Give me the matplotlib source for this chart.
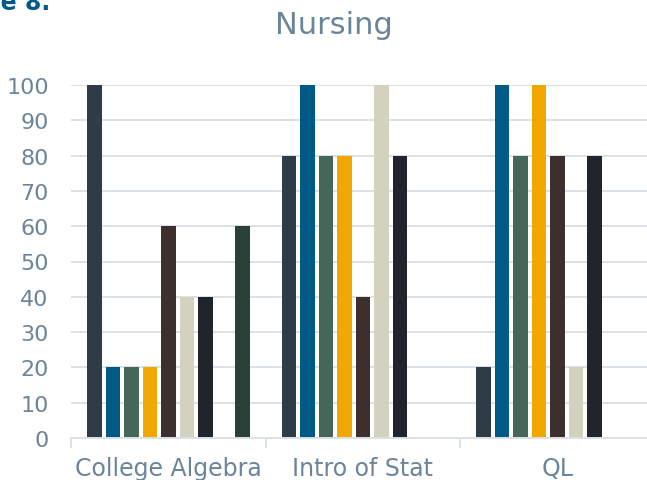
import matplotlib
matplotlib.use("Agg")
import matplotlib.pyplot as plt
import numpy as np

categories = ["College Algebra", "Intro of Stat", "QL"]
series_values = [
    [100, 80, 20],
    [20, 100, 100],
    [20, 80, 80],
    [20, 80, 100],
    [60, 40, 80],
    [40, 100, 20],
    [40, 80, 80],
    [0, 0, 0],
    [60, 0, 0],
]
colors = ["#2F3C48", "#005A86", "#46665A", "#F0A800", "#3D2F2E",
          "#D2D2BF", "#20252D", "#3A5A70", "#2B4037"]
yticks = [0, 10, 20, 30, 40, 50, 60, 70, 80, 90, 100]

text_color = "#6A8599"
grid_color = "#DCE1E8"

fig = plt.figure(figsize=(6.47, 4.81), dpi=100)
W, H = 647, 481
x0, x1 = 71, 655
ytop, ybot = 86, 439
ax = fig.add_axes([x0 / W, 1 - ybot / H, (x1 - x0) / W, (ybot - ytop) / H])

n = len(series_values)
step = 18.5 / 194.5
bw = 14.5 / 194.5
xs = np.arange(len(categories)) + 0.5
for i, vals in enumerate(series_values):
    offs = (i - (n - 1) / 2) * step
    ax.bar(xs + offs, vals, width=bw, color=colors[i], zorder=3,
           linewidth=0.0)

ax.set_xlim(0, len(categories))
ax.set_ylim(0, 100)
ax.set_yticks(yticks)
ax.set_yticklabels([str(t) for t in yticks])
ax.yaxis.grid(True, color=grid_color, linewidth=1.4, zorder=0)
ax.set_axisbelow(True)
for s in ["top", "right", "left"]:
    ax.spines[s].set_visible(False)
ax.spines["bottom"].set_color(grid_color)
ax.spines["bottom"].set_linewidth(1.4)
ax.spines["bottom"].set_zorder(4)

ax.set_xticks(np.arange(len(categories) + 1), minor=False)
ax.set_xticklabels([""] * (len(categories) + 1))
ax.tick_params(axis="x", which="major", length=7, width=1.4, color=grid_color)
ax.set_xticks(xs, minor=True)
ax.set_xticklabels(categories, minor=True)
ax.tick_params(axis="x", which="minor", length=0, pad=13,
               labelsize=17, labelcolor=text_color)
ax.tick_params(axis="y", length=0, pad=16, labelsize=16, labelcolor=text_color)

fig.text(334 / W, 1 - 26 / H, "Nursing", ha="center", va="center",
         fontsize=22, color=text_color)
fig.text(50 / W, 1 - 10 / H, "Figure 8.", ha="right", va="baseline",
         fontsize=17, fontweight="bold", color="#005A86")

fig.savefig("out.png", dpi=100)
